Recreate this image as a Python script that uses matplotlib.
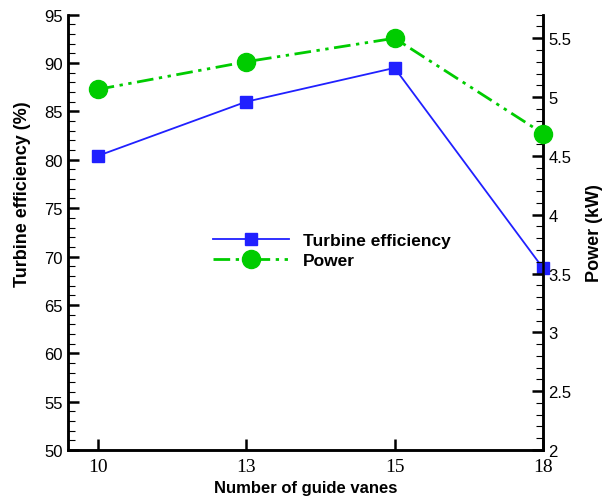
import matplotlib
matplotlib.use("Agg")
import matplotlib.pyplot as plt
from matplotlib.ticker import MultipleLocator

categories = ["10", "13", "15", "18"]
efficiency = [80.4, 86.0, 89.5, 68.8]
power = [5.065, 5.30, 5.50, 4.69]

plt.rcParams['font.family'] = ['Liberation Sans', 'DejaVu Sans']

fig = plt.figure(figsize=(6.1, 5.02), dpi=100)
ax = fig.add_axes([68/610, 1-451/502, (543-68)/610, (451-15.7)/502])
ax2 = ax.twinx()

x = list(range(len(categories)))
l1, = ax.plot(x, efficiency, color='#2020ff', lw=1.3, marker='s', ms=9,
              label='Turbine efficiency', clip_on=False, zorder=3)
l2, = ax2.plot(x, power, color='#00cc00', lw=2.0, marker='o', ms=13,
               dashes=[6, 2, 1.2, 2, 1.2, 2], label='Power', clip_on=False, zorder=3)

ax.set_xlim(-0.2, 3)
ax.set_ylim(50, 95)
ax2.set_ylim(2, 5.7)

ax.set_xticks(x)
ax.set_xticklabels(categories, fontfamily='Liberation Serif', fontsize=14)
ax.yaxis.set_major_locator(MultipleLocator(5))
ax.yaxis.set_minor_locator(MultipleLocator(1))
ax2.yaxis.set_major_locator(MultipleLocator(0.5))
ax2.yaxis.set_minor_locator(MultipleLocator(0.1))
ax2.set_yticks([2, 2.5, 3, 3.5, 4, 4.5, 5, 5.5])
ax2.set_yticklabels(["2", "2.5", "3", "3.5", "4", "4.5", "5", "5.5"])

for a in (ax, ax2):
    a.spines['top'].set_visible(False)
    for s in a.spines.values():
        s.set_linewidth(1.8)
ax.tick_params(axis='y', which='major', direction='in', length=8, width=1.8, labelsize=12, pad=4)
ax.tick_params(axis='y', which='minor', direction='in', length=5, width=0.8)
ax.tick_params(axis='x', which='major', direction='in', length=8, width=1.8, pad=6)
ax2.tick_params(axis='y', which='major', direction='in', length=8, width=1.8, labelsize=12, pad=4)
ax2.tick_params(axis='y', which='minor', direction='in', length=5, width=0.8)

ax.set_xlabel('Number of guide vanes', fontsize=12, fontweight='bold')
ax.xaxis.set_label_coords(0.5, -0.068)
ax.set_ylabel('Turbine efficiency (%)', fontsize=13, fontweight='bold')
ax.yaxis.set_label_coords(-0.078, 0.59)
ax2.set_ylabel('Power (kW)', fontsize=13, fontweight='bold', labelpad=10)

leg = ax.legend(handles=[l1, l2], loc='upper left', bbox_to_anchor=(0.29, 0.515),
                frameon=False, fontsize=12.5, handlelength=4.4, handletextpad=0.8,
                labelspacing=0.3, borderaxespad=0)
for t in leg.get_texts():
    t.set_fontweight('bold')

fig.savefig('out.png', dpi=100)
